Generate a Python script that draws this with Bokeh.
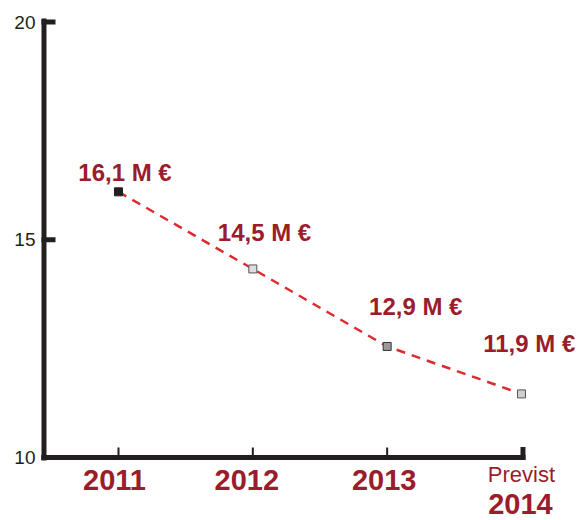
from bokeh.plotting import figure
from bokeh.models import Range1d, ColumnDataSource
from bokeh.core.properties import value
from bokeh.embed import file_html
from bokeh.resources import INLINE

# ---- data ----
years = [2011, 2012, 2013, 2014]
revenue = [16.1, 14.33, 12.55, 11.46]          # plotted positions (M €)
value_labels = ["16,1 M €", "14,5 M €", "12,9 M €", "11,9 M €"]
year_labels = ["2011", "2012", "2013", "2014"]
forecast_note = "Previst"
y_ticks = [10, 15, 20]
y_tick_labels = ["10", "15", "20"]
marker_fill = ["#231f20", "#dcdcdc", "#9a9a9a", "#cfcfcf"]
marker_line = ["#231f20", "#555555", "#333333", "#555555"]

FONT = value("Liberation Sans")
DARK_RED = "#9b1c2b"
INK = "#231f20"

p = figure(width=579, height=520, output_backend="svg", toolbar_location=None,
           x_range=Range1d(2010.1216, 2014.4319), y_range=Range1d(8.5534, 20.4937),
           min_border=0, x_axis_location=None, y_axis_location=None)
p.grid.visible = False
p.outline_line_color = None
p.background_fill_color = "white"

sx = 134.33  # px per year
sy = 43.55   # px per unit

def px_x(px):
    return px / sx

def px_y(px):
    return px / sy

ax_x = years[0] - px_x(74.5)
ax_right = years[-1] + px_x(4)

# y axis line
p.segment(x0=[ax_x], y0=[y_ticks[0] - px_y(3)], x1=[ax_x], y1=[y_ticks[-1] + px_y(3.5)],
          line_color=INK, line_width=5, line_cap="butt")
# y ticks (inward)
p.segment(x0=[ax_x - px_x(2.5)] * 3, y0=y_ticks, x1=[ax_x + px_x(11.5)] * 3, y1=y_ticks,
          line_color=INK, line_width=5, line_cap="butt")
# x axis line
p.segment(x0=[ax_x - px_x(2.5)], y0=[y_ticks[0]], x1=[ax_right], y1=[y_ticks[0]],
          line_color=INK, line_width=5, line_cap="butt")
# x ticks
p.segment(x0=years[:3], y0=[y_ticks[0]] * 3, x1=years[:3], y1=[y_ticks[0] + px_y(10)] * 3,
          line_color=INK, line_width=2, line_cap="butt")
# end cap at 2014
p.segment(x0=[ax_right - px_x(2.5)], y0=[y_ticks[0] - px_y(2.5)],
          x1=[ax_right - px_x(2.5)], y1=[y_ticks[0] + px_y(10.5)],
          line_color=INK, line_width=5, line_cap="butt")

# y tick labels
p.text(x=[ax_x - px_x(8.5)] * 3, y=y_ticks, text=y_tick_labels, text_font=FONT,
       text_font_size="19px", text_color=INK, text_align="right", text_baseline="middle")

# data line + markers
src = ColumnDataSource(dict(x=years, y=revenue, fill=marker_fill, line=marker_line,
                            label=value_labels,
                            lx=[6.5, 11.7, 28.6, 7.8], ly=[-19.7, -36, -40, -50.6]))
p.line(x="x", y="y", source=src, line_color="#dc2a2f", line_width=2.5, line_dash="9 7")
p.scatter(x="x", y="y", source=src, marker="square", size=8,
          fill_color="fill", line_color="line", line_width=1)

# value labels
p.text(x="x", y="y", text="label", source=src, x_offset="lx", y_offset="ly",
       text_font=FONT, text_font_size="24px", text_font_style="bold", text_color=DARK_RED,
       text_align="center", text_baseline="alphabetic")

# year labels
ysrc = ColumnDataSource(dict(x=years, t=year_labels, xo=[-4, -6, -3, -1], yo=[22, 22, 22, 46]))
p.text(x="x", y=y_ticks[0], text="t", source=ysrc, x_offset="xo", y_offset="yo",
       text_font=FONT, text_font_size="29px", text_font_style="bold", text_color=DARK_RED,
       text_align="center", text_baseline="alphabetic")
p.text(x=[years[-1]], y=[y_ticks[0]], text=[forecast_note], x_offset=0, y_offset=17,
       text_font=FONT, text_font_size="22px", text_color=DARK_RED,
       text_align="center", text_baseline="alphabetic")

open("out.html", "w").write(file_html(p, INLINE))
